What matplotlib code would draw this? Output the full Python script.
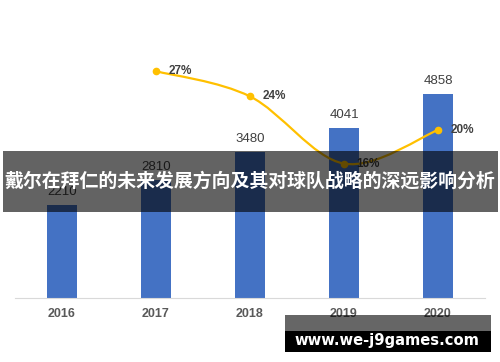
import numpy as np
import matplotlib.pyplot as plt
from matplotlib.path import Path
from matplotlib.patches import PathPatch, Rectangle

plt.rcParams['font.family'] = ['Noto Sans CJK SC', 'DejaVu Sans']

years = ['2016', '2017', '2018', '2019', '2020']
revenue = [2210, 2810, 3480, 4041, 4858]
growth_years = ['2017', '2018', '2019', '2020']
growth = [27, 24, 16, 20]
title = '戴尔在拜仁的未来发展方向及其对球队战略的深远影响分析'
watermark = 'www.we-j9games.com'

fig = plt.figure(figsize=(5.0, 3.62), dpi=100)
ax = fig.add_axes([15 / 500, (362 - 298) / 362, 470 / 500, 252 / 362])
x = np.arange(len(years))
ax.bar(x, revenue, width=0.32, color='#4472C4', zorder=2)
for xi, v in zip(x, revenue):
    ax.annotate(str(v), (xi, v), xytext=(0, 5), textcoords='offset points',
                ha='center', va='bottom', fontsize=9.5,
                color='#404040', family='Liberation Sans')
ax.set_xlim(-0.5, len(years) - 0.5)
ax.set_ylim(0, 6000)
ax.set_xticks(x)
ax.set_xticklabels(years, fontsize=9, fontweight='bold', color='#595959',
                   family='Liberation Sans')
ax.tick_params(axis='x', length=0, pad=7)
ax.set_yticks([])
for s in ['top', 'right', 'left']:
    ax.spines[s].set_visible(False)
ax.spines['bottom'].set_color('#d9d9d9')

# growth line, smoothed like a spreadsheet chart
ax2 = ax.twinx()
ax2.set_ylim(0, 30)
ax2.set_yticks([])
for s in ax2.spines.values():
    s.set_visible(False)
gx = np.array([years.index(y) for y in growth_years], dtype=float)
gy = np.array(growth, dtype=float)
pts = np.column_stack([gx, gy])
ext = np.vstack([pts[0], pts, pts[-1]])
verts = [tuple(pts[0])]
codes = [Path.MOVETO]
for i in range(len(pts) - 1):
    p0, p1, p2, p3 = ext[i], ext[i + 1], ext[i + 2], ext[i + 3]
    c1 = p1 + (p2 - p0) / 6
    c2 = p2 - (p3 - p1) / 6
    verts += [tuple(c1), tuple(c2), tuple(p2)]
    codes += [Path.CURVE4] * 3
ax2.add_patch(PathPatch(Path(verts, codes), fill=False, edgecolor='#FFC000',
                        lw=1.6, zorder=3))
ax2.plot(gx, gy, 'o', color='#FFC000', ms=4.5, zorder=4)
for xi, v in zip(gx, gy):
    ax2.annotate(f'{int(v)}%', (xi, v), xytext=(9, 0), textcoords='offset points',
                 ha='left', va='center', fontsize=8.5, fontweight='bold',
                 color='#404040', family='Liberation Sans')

# title band overlay
fig.add_artist(Rectangle((3 / 500, 1 - 212 / 362), 495 / 500, 61 / 362,
                         transform=fig.transFigure, facecolor='black',
                         alpha=0.61, edgecolor='none', zorder=10))
fig.text(0.5, 1 - 181 / 362, title, ha='center', va='center', fontsize=13.6,
         fontweight='bold', color='white', zorder=11)

# watermark
fig.add_artist(Rectangle((285 / 500, 1 - 331 / 362), 206 / 500, 16 / 362,
                         transform=fig.transFigure, facecolor='black',
                         alpha=0.6, edgecolor='none', zorder=10))
fig.add_artist(Rectangle((285 / 500, 1 - 352 / 362), 206 / 500, 21 / 362,
                         transform=fig.transFigure, facecolor='black',
                         edgecolor='none', zorder=10))
fig.text(387 / 500, 1 - 341 / 362, watermark, ha='center', va='center',
         fontsize=10.6, fontweight='bold', color='white', zorder=11,
         family='DejaVu Sans')

fig.savefig('out.png', dpi=100)
